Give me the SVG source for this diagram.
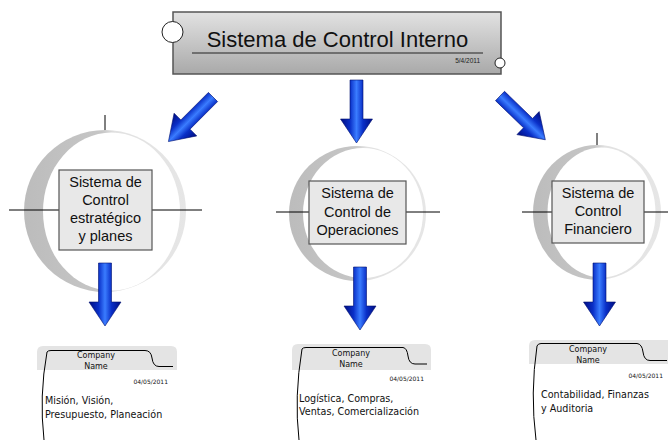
<svg xmlns="http://www.w3.org/2000/svg" xmlns:xlink="http://www.w3.org/1999/xlink" width="668" height="440" viewBox="0 0 668 440">
<defs>
<linearGradient id="topg" x1="0" y1="0" x2="0" y2="1">
<stop offset="0" stop-color="#e2e2e2"/><stop offset="1" stop-color="#a9a9a9"/>
</linearGradient>
<linearGradient id="ringg" x1="0" y1="0" x2="1" y2="0">
<stop offset="0" stop-color="#bcbcbc"/><stop offset="0.48" stop-color="#c6c6c6"/><stop offset="0.56" stop-color="#e1e1e1"/><stop offset="1" stop-color="#e6e6e6"/>
</linearGradient>
<linearGradient id="arrg" x1="0" y1="0" x2="1" y2="0">
<stop offset="0" stop-color="#000c80"/><stop offset="0.3" stop-color="#0a30c8"/><stop offset="0.5" stop-color="#3a7cff"/><stop offset="0.7" stop-color="#0a30c8"/><stop offset="1" stop-color="#000c80"/>
</linearGradient>
<path id="arr" d="M-6.5,0 H6.5 V39 H16 L0,63 L-16,39 H-6.5 Z" fill="url(#arrg)" stroke="#001070" stroke-width="0.6"/>
</defs>
<style>
.box{fill:#e8e8e8;stroke:#555;stroke-width:1.2}
.bt{font-family:"Liberation Sans",Arial,sans-serif;font-size:14.5px;fill:#111;text-anchor:middle}
.ln{stroke:#000;stroke-width:1;fill:none}
.band{fill:#e4e4e4}
.cn{font-family:"DejaVu Sans",Verdana,sans-serif;font-size:8px;fill:#111;text-anchor:middle}
.dt{font-family:"DejaVu Sans",Verdana,sans-serif;font-size:6px;fill:#111;text-anchor:end}
.body{font-family:"DejaVu Sans",Verdana,sans-serif;font-size:9.6px;fill:#111}
</style>
<rect width="668" height="440" fill="#fff"/>

<g id="top">
<rect x="173" y="12" width="328" height="62" fill="url(#topg)" stroke="#555" stroke-width="1.5"/>
<circle cx="172.5" cy="32" r="10.5" fill="#fff" stroke="#222" stroke-width="1"/>
<circle cx="500" cy="63" r="5" fill="#fff" stroke="#222" stroke-width="1"/>
<text x="337.5" y="47" font-family="Liberation Sans,Arial,sans-serif" font-size="22" fill="#111" text-anchor="middle">Sistema de Control Interno</text>
<line x1="192" y1="53" x2="483" y2="53" stroke="#222" stroke-width="1"/>
<text x="480" y="62.5" font-family="Liberation Sans,Arial,sans-serif" font-size="6.5" fill="#222" text-anchor="end">5/4/2011</text>
</g>

<g id="ring1">
<ellipse cx="105" cy="211" rx="81" ry="81" fill="url(#ringg)"/>
<ellipse cx="111.5" cy="211.5" rx="68.5" ry="79" fill="#fff"/>
<line class="ln" x1="105" y1="115" x2="105" y2="130" stroke="#555"/>
<line class="ln" x1="9" y1="210" x2="202" y2="210"/>
<rect class="box" x="59" y="170" width="93" height="80"/>
<text class="bt" x="105.5" y="187">Sistema de</text>
<text class="bt" x="105.5" y="205">Control</text>
<text class="bt" x="105.5" y="223">estratégico</text>
<text class="bt" x="105.5" y="241">y planes</text>
</g>

<g id="ring2">
<ellipse cx="357.5" cy="213.5" rx="68.5" ry="67.5" fill="url(#ringg)"/>
<ellipse cx="363" cy="213" rx="60" ry="65" fill="#fff"/>
<line class="ln" x1="276" y1="212" x2="440" y2="212"/>
<rect class="box" x="309" y="181" width="97" height="63"/>
<text class="bt" x="357.5" y="198">Sistema de</text>
<text class="bt" x="357.5" y="216.5">Control de</text>
<text class="bt" x="357.5" y="234.5">Operaciones</text>
</g>

<g id="ring3">
<ellipse cx="597" cy="212.5" rx="64" ry="67.5" fill="url(#ringg)"/>
<ellipse cx="601.5" cy="212.5" rx="54" ry="65" fill="#fff"/>
<line class="ln" x1="597" y1="133" x2="597" y2="145"/>
<line class="ln" x1="522" y1="212" x2="668" y2="212"/>
<rect class="box" x="552" y="181" width="92" height="62"/>
<text class="bt" x="598" y="198">Sistema de</text>
<text class="bt" x="598" y="216">Control</text>
<text class="bt" x="598" y="234">Financiero</text>
</g>

<g id="card1">
<path class="band" d="M37,370 V352 Q37,346 43,346 H171 Q177,346 177,352 V370 Z"/>
<path class="ln" d="M44,440 Q39,396 47,352 Q48,350.5 51,350.5 L145,350.5 Q151,350.5 152,358 Q153,366.5 159,366.5 L173,366.5"/>
<text class="cn" x="96" y="357.5">Company</text>
<text class="cn" x="96" y="369">Name</text>
<text class="dt" x="168" y="383.5">04/05/2011</text>
<text class="body" x="45" y="403.5">Misión, Visión,</text>
<text class="body" x="45" y="417.5">Presupuesto, Planeación</text>
</g>

<g id="card2">
<path class="band" d="M292,370 V350 Q292,344 298,344 H425 Q431,344 431,350 V370 Z"/>
<path class="ln" d="M299,440 Q294,397 302,349 Q303,347.5 306,347.5 L403,347.5 Q407,348 408,356 Q409,364 415,364 L427,364"/>
<text class="cn" x="351" y="355.5">Company</text>
<text class="cn" x="351" y="366.5">Name</text>
<text class="dt" x="424" y="381">04/05/2011</text>
<text class="body" x="299" y="401.5">Logística, Compras,</text>
<text class="body" x="299" y="415">Ventas, Comercialización</text>
</g>

<g id="card3">
<path class="band" d="M529,364 V346 Q529,340 535,340 H668 V364 Z"/>
<path class="ln" d="M536,440 Q530,393 537,346 Q538,343.5 541,343.5 L637,343.5 Q642,344 643,352 Q644,360.5 650,360.5 L667,360.5"/>
<text class="cn" x="588" y="351.5">Company</text>
<text class="cn" x="588" y="362.5">Name</text>
<text class="dt" x="663" y="378">04/05/2011</text>
<text class="body" x="541" y="398">Contabilidad, Finanzas</text>
<text class="body" x="541" y="412">y Auditoria</text>
</g>

<g id="connectors">
<use xlink:href="#arr" transform="translate(213,97) rotate(45)"/>
<use xlink:href="#arr" transform="translate(356.5,80)"/>
<use xlink:href="#arr" transform="translate(500,96) rotate(-46)"/>
<use xlink:href="#arr" transform="translate(105,263)"/>
<use xlink:href="#arr" transform="translate(360,267)"/>
<use xlink:href="#arr" transform="translate(599.5,263)"/>
</g>
</svg>
